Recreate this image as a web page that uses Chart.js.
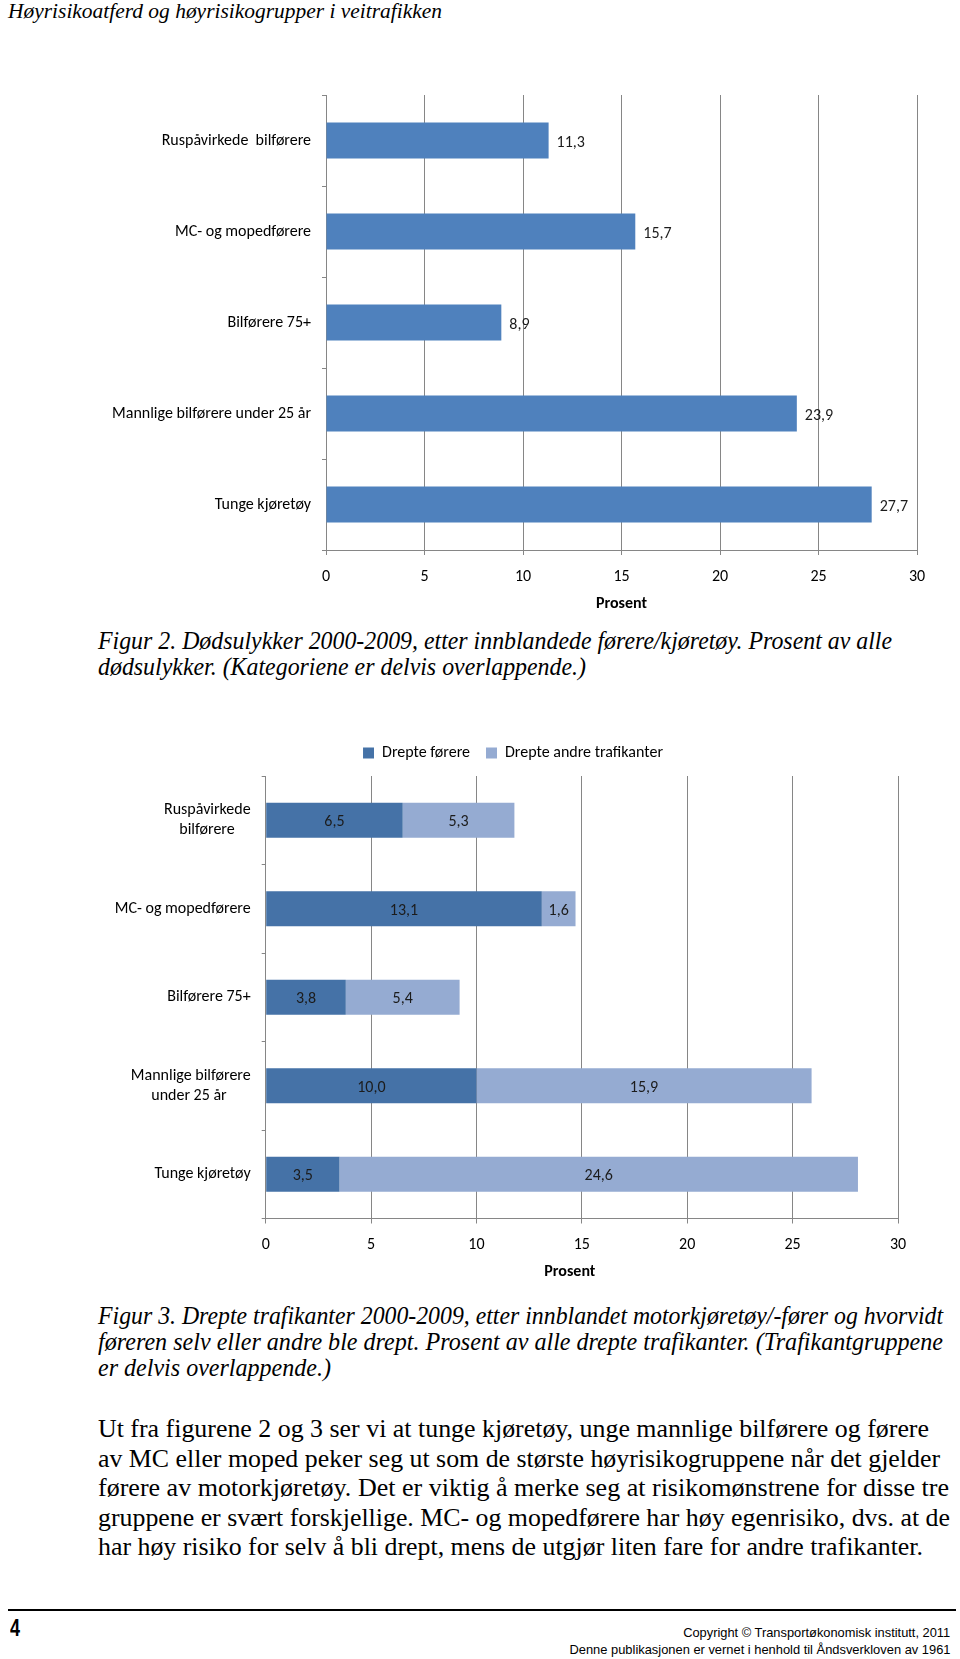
<!DOCTYPE html>
<html>
<head>
<meta charset="utf-8">
<title>Høyrisikoatferd og høyrisikogrupper i veitrafikken</title>
<script src="https://cdn.jsdelivr.net/npm/chart.js@4.4.1/dist/chart.umd.min.js"></script>
<style>
  html, body { margin: 0; padding: 0; background: #fff; }
  body { width: 960px; height: 1659px; position: relative; overflow: hidden; color: #000; }
  .serif { position: absolute; font-family: 'Liberation Serif', 'Times New Roman', serif; white-space: nowrap; }
  .serif div, .foot div { white-space: nowrap; }
  .fit { display: inline-block; transform-origin: left center; }
  .right .fit { transform-origin: right center; }
  canvas { position: absolute; left: 0; }
  .foot { position: absolute; font-family: 'Liberation Sans', Arial, sans-serif; }
</style>
</head>
<body>

<div class="serif" style="left:8px; top:0px; font-size:20.5px; line-height:22px; font-style:italic;">
  <span class="fit" data-w="434">Høyrisikoatferd og høyrisikogrupper i veitrafikken</span>
</div>

<canvas id="figur2" width="960" height="540" style="top:80px"></canvas>

<div class="serif" style="left:98px; top:628px; font-size:25px; line-height:26px; font-style:italic;">
  <div><span class="fit" data-w="794">Figur 2. Dødsulykker 2000-2009, etter innblandede førere/kjøretøy. Prosent av alle</span></div>
  <div><span class="fit" data-w="488">dødsulykker. (Kategoriene er delvis overlappende.)</span></div>
</div>

<canvas id="figur3" width="960" height="570" style="top:720px"></canvas>

<div class="serif" style="left:98px; top:1303px; font-size:25px; line-height:26px; font-style:italic;">
  <div><span class="fit" data-w="845">Figur 3. Drepte trafikanter 2000-2009, etter innblandet motorkjøretøy/-fører og hvorvidt</span></div>
  <div><span class="fit" data-w="845">føreren selv eller andre ble drept. Prosent av alle drepte trafikanter. (Trafikantgruppene</span></div>
  <div><span class="fit" data-w="233">er delvis overlappende.)</span></div>
</div>

<div class="serif" style="left:98px; top:1414px; font-size:25.5px; line-height:29.5px;">
  <div><span class="fit" data-w="831">Ut fra figurene 2 og 3 ser vi at tunge kjøretøy, unge mannlige bilførere og førere</span></div>
  <div><span class="fit" data-w="842">av MC eller moped peker seg ut som de største høyrisikogruppene når det gjelder</span></div>
  <div><span class="fit" data-w="851">førere av motorkjøretøy. Det er viktig å merke seg at risikomønstrene for disse tre</span></div>
  <div><span class="fit" data-w="852">gruppene er svært forskjellige. MC- og mopedførere har høy egenrisiko, dvs. at de</span></div>
  <div><span class="fit" data-w="825">har høy risiko for selv å bli drept, mens de utgjør liten fare for andre trafikanter.</span></div>
</div>

<div style="position:absolute; left:8px; top:1609px; width:948px; height:2px; background:#000;"></div>
<div class="foot" style="left:10px; top:1615px; font-size:24px; line-height:26px; font-weight:bold;">
  <span class="fit" data-w="10">4</span>
</div>
<div class="foot right" style="right:10px; top:1624px; font-size:13px; line-height:17px; text-align:right;">
  <div><span class="fit" data-w="267">Copyright © Transportøkonomisk institutt, 2011</span></div>
  <div><span class="fit" data-w="381">Denne publikasjonen er vernet i henhold til Åndsverkloven av 1961</span></div>
</div>

<script>
// data
const kategorier2 = ["Ruspåvirkede  bilførere", "MC- og mopedførere", "Bilførere 75+", "Mannlige bilførere under 25 år", "Tunge kjøretøy"];
const prosent2 = [11.3, 15.7, 8.9, 23.9, 27.7];

// en-mellomrom bak korte linjer så to-linjers etiketter blir midtstilt
const kategorier3 = [["Ruspåvirkede", "bilførere\u2002\u2002"], "MC- og mopedførere", "Bilførere 75+", ["Mannlige bilførere", "under 25 år\u2002\u2002\u2002"], "Tunge kjøretøy"];
const dreptFørere = [6.5, 13.1, 3.8, 10.0, 3.5];
const dreptAndre = [5.3, 1.6, 5.4, 15.9, 24.6];

const prosentTicks = [0, 5, 10, 15, 20, 25, 30];

// tekst-linjer strekkes til riktig bredde
document.querySelectorAll(".fit").forEach(el => {
    const w = el.getBoundingClientRect().width;
    const mål = parseFloat(el.dataset.w);
    if (w > 0) el.style.transform = "scaleX(" + (mål / w) + ")";
});

Chart.defaults.font.family = "Carlito, Lato, sans-serif";
Chart.defaults.color = "#000";

const grå = "#868686";
const fmt = v => v.toFixed(1).replace(".", ",");

// verdier ved siden av / midt i søylene
const verdiEtiketter = {
    id: "verdiEtiketter",
    afterDatasetsDraw(chart, args, opts) {
        const ctx = chart.ctx;
        ctx.save();
        ctx.font = "16px Carlito, Lato, sans-serif";
        ctx.fillStyle = "#1c1c1c";
        ctx.textBaseline = "middle";
        chart.data.datasets.forEach((ds, i) => {
            chart.getDatasetMeta(i).data.forEach((bar, j) => {
                const { x, y, base } = bar.getProps(["x", "y", "base"], true);
                if (opts.inside) {
                    ctx.textAlign = "center";
                    ctx.fillText(fmt(ds.data[j]), (x + base) / 2, y + 2);
                } else {
                    ctx.textAlign = "left";
                    ctx.fillText(fmt(ds.data[j]), x + 8, y + 2);
                }
            });
        });
        ctx.restore();
    }
};

// litt mer luft under forklaringen, og forklaringen flyttes litt mot høyre
const legendGap = {
    id: "legendGap",
    beforeInit(chart) {
        const legend = chart.legend;
        if (!legend || legend._gap) return;
        const fit = legend.fit;
        legend.fit = function () {
            fit.call(this);
            this.height += 5;
        };
        legend._gap = true;
    },
    afterLayout(chart, args, opts) {
        if (chart.legend) chart.legend.left = opts.left;
    }
};

function xAkse(høyde, titPad, tittel) {
    return {
        type: "linear",
        min: 0,
        max: 30,
        afterBuildTicks: s => { s.ticks = prosentTicks.map(v => ({ value: v })); },
        afterFit: s => { s.height = høyde; },
        grid: { color: grå, lineWidth: 1, tickLength: 5 },
        border: { color: grå },
        ticks: { font: { size: 16 }, padding: 12, maxRotation: 0 },
        title: {
            display: true,
            text: tittel,
            font: { size: 16, weight: "bold" },
            padding: { top: 0, bottom: titPad }
        }
    };
}

function yAkse(bredde) {
    return {
        stacked: true,
        afterFit: s => {
            s.width = bredde;
            s.paddingTop = 0;
            s.paddingBottom = 0;
        },
        grid: { drawOnChartArea: false, color: grå, tickLength: 4 },
        border: { color: grå },
        ticks: { font: { size: 16, lineHeight: 1.28 }, padding: 11 }
    };
}

new Chart(document.getElementById("figur2"), {
    type: "bar",
    data: {
        labels: kategorier2,
        datasets: [{
            label: "Prosent",
            data: prosent2,
            backgroundColor: "#4F81BD",
            categoryPercentage: 1,
            barPercentage: 0.396
        }]
    },
    options: {
        indexAxis: "y",
        responsive: false,
        animation: false,
        layout: { padding: { top: 15, right: 43, left: 0, bottom: 0 } },
        plugins: {
            legend: { display: false },
            tooltip: { enabled: false },
            verdiEtiketter: { inside: false }
        },
        scales: {
            x: xAkse(70, 6.4, "Prosent"),
            y: yAkse(326)
        }
    },
    plugins: [verdiEtiketter]
});

new Chart(document.getElementById("figur3"), {
    type: "bar",
    data: {
        labels: kategorier3,
        datasets: [
            {
                label: "Drepte førere",
                data: dreptFørere,
                backgroundColor: "#4572A7",
                borderWidth: 0,
                categoryPercentage: 1,
                barPercentage: 0.396
            },
            {
                label: "Drepte andre trafikanter",
                data: dreptAndre,
                backgroundColor: "#95ABD2",
                borderWidth: 0,
                categoryPercentage: 1,
                barPercentage: 0.396
            }
        ]
    },
    options: {
        indexAxis: "y",
        responsive: false,
        animation: false,
        layout: { padding: { top: 9, right: 62, left: 0, bottom: 0 } },
        plugins: {
            legend: {
                position: "top",
                labels: { boxWidth: 11, boxHeight: 11, padding: 16, font: { size: 16 }, color: "#000" }
            },
            tooltip: { enabled: false },
            verdiEtiketter: { inside: true },
            legendGap: { left: 128 }
        },
        scales: {
            x: Object.assign(xAkse(71.5, 8.4, "Prosent\u2002\u2002\u2002"), { stacked: true }),
            y: yAkse(265.7)
        }
    },
    plugins: [verdiEtiketter, legendGap]
});
</script>
</body>
</html>
